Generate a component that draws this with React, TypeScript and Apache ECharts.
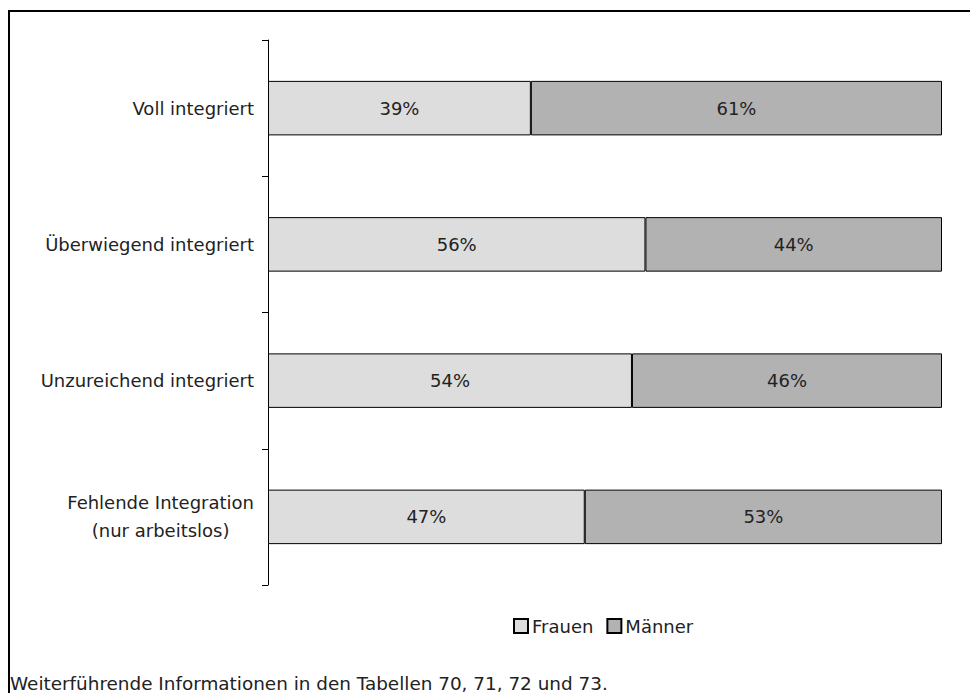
import React, { useEffect, useRef } from "react";
import * as echarts from "echarts";

const categories = [
  "Voll integriert",
  "Überwiegend integriert",
  "Unzureichend integriert",
  "Fehlende Integration\n(nur arbeitslos)",
];
const frauen = [39, 56, 54, 47];
const maenner = [61, 44, 46, 53];
const seriesNames = ["Frauen", "Männer"];
const footnote = "Weiterführende Informationen in den Tabellen 70, 71, 72 und 73.";

const FONT = "DejaVu Sans";
const FS = 18;

export default function App() {
  const ref = useRef<HTMLDivElement>(null);
  useEffect(() => {
    const chart = echarts.init(ref.current!, null, { renderer: "svg" });
    const label = {
      show: true,
      position: "inside",
      formatter: "{c}%",
      color: "#222",
      fontFamily: FONT,
      fontSize: FS,
    };
    chart.setOption({
      animation: false,
      backgroundColor: "#fff",
      textStyle: { fontFamily: FONT },
      grid: { left: 268, right: 28, top: 40, bottom: 108 },
      xAxis: {
        type: "value",
        min: 0,
        max: 100,
        show: false,
      },
      yAxis: {
        type: "category",
        data: categories,
        inverse: true,
        axisLine: { show: true, lineStyle: { color: "#000", width: 1 } },
        axisTick: { show: true, length: 6, lineStyle: { color: "#000" } },
        axisLabel: {
          color: "#222",
          fontFamily: FONT,
          fontSize: FS,
          lineHeight: 28,
          margin: 14,
          align: "right",
          formatter: (v: string) =>
            v
              .split("\n")
              .map((s) => `{c|${s}}`)
              .join("\n"),
          rich: {
            c: {
              align: "center",
              color: "#222",
              fontFamily: FONT,
              fontSize: FS,
              lineHeight: 28,
            },
          },
        },
      },
      legend: {
        data: seriesNames,
        left: 513,
        top: 617,
        padding: 0,
        itemWidth: 14,
        itemHeight: 14,
        itemGap: 13,
        icon: "rect",
        textStyle: { color: "#222", fontFamily: FONT, fontSize: FS, padding: [0, 0, 0, -1] },
      },
      series: [
        {
          name: seriesNames[0],
          type: "bar",
          stack: "a",
          data: frauen,
          barWidth: "40%",
          itemStyle: { color: "#dddddd", borderColor: "#000", borderWidth: 1 },
          label,
        },
        {
          name: seriesNames[1],
          type: "bar",
          stack: "a",
          data: maenner,
          barWidth: "40%",
          itemStyle: { color: "#b2b2b2", borderColor: "#000", borderWidth: 1 },
          label,
        },
      ],
      graphic: [
        {
          type: "polyline",
          shape: { points: [[9, 693], [9, 11], [970, 11]] },
          style: { stroke: "#000", lineWidth: 2, fill: "none" },
          silent: true,
        },
        {
          type: "text",
          x: 10,
          y: 683,
          style: {
            text: footnote,
            fill: "#222",
            font: `18.4px '${FONT}'`,
            textVerticalAlign: "middle",
          },
        },
      ],
    });
    return () => chart.dispose();
  }, []);
  return <div ref={ref} style={{ position: "fixed", left: 0, top: 0, width: 970, height: 693 }} />;
}
